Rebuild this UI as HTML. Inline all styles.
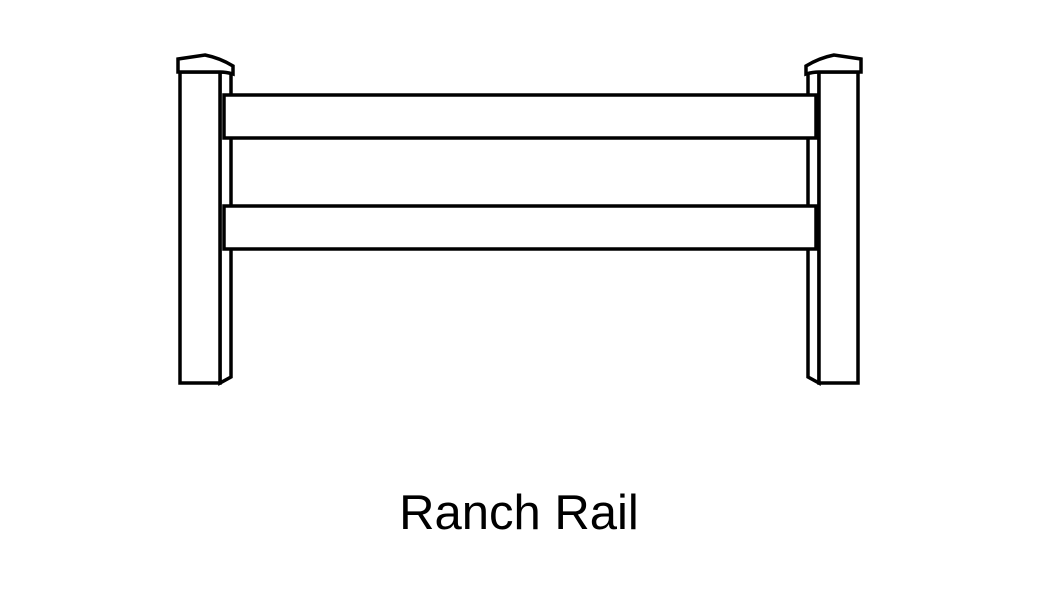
<!DOCTYPE html>
<html><head><style>
body{margin:0;background:#fff;width:1040px;height:586px;overflow:hidden}
</style></head><body>
<svg width="1040" height="586" viewBox="0 0 1040 586" xmlns="http://www.w3.org/2000/svg">
<g fill="#fff" stroke="#000" stroke-width="3.5" stroke-linejoin="miter">
<!-- left post -->
<polygon points="220,72 231,72 231,377 220,383"/>
<rect x="180" y="72" width="40" height="311"/>
<path d="M178,59 L205,55 Q220,58 233,66 L233,74 Q226,72 220,72 L180,72 L178,72 Z"/>
<!-- right post -->
<polygon points="819,72 808,72 808,377 819,383"/>
<rect x="819" y="72" width="39" height="311"/>
<path d="M861,59 L834,55 Q819,58 806,66 L806,74 Q813,72 819,72 L859,72 L861,72 Z"/>
<!-- rails -->
<rect x="224" y="95" width="592" height="43"/>
<rect x="224" y="206" width="592" height="43"/>
</g>
<text x="519" y="529" text-anchor="middle" font-family="Liberation Sans, sans-serif" font-size="49" fill="#000">Ranch Rail</text>
</svg>
</body></html>
